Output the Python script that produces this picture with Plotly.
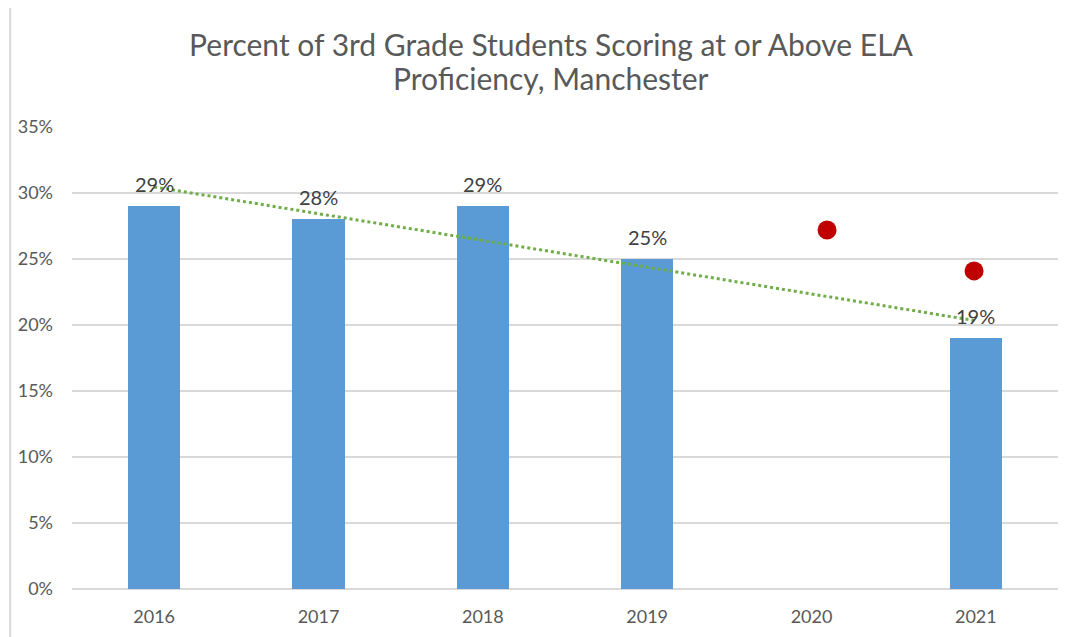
import numpy as np
import plotly.graph_objects as go

years = ["2016", "2017", "2018", "2019", "2020", "2021"]
bar_values = [29, 28, 29, 25, None, 19]
dot_values = [None, None, None, None, 27.2, 24.1]
y_ticks = [0, 5, 10, 15, 20, 25, 30, 35]
y_tick_labels = ["0%", "5%", "10%", "15%", "20%", "25%", "30%", "35%"]
title_line1 = "Percent of 3rd Grade Students Scoring at or Above ELA"
title_line2 = "Proficiency, Manchester"

# Linear trendline (Excel style) fitted on the available bar values
idx = np.arange(1, len(years) + 1)
mask = np.array([v is not None for v in bar_values])
vals = np.array([v if v is not None else np.nan for v in bar_values], dtype=float)
slope, intercept = np.polyfit(idx[mask], vals[mask], 1)
trend = list(slope * idx + intercept)

FONT = "Lato"
W, H = 1058, 629

fig = go.Figure()
fig.add_trace(go.Bar(
    x=years, y=bar_values, width=0.32,
    marker=dict(color="#5b9bd5", line=dict(width=0)),
    hoverinfo="skip", showlegend=False,
))
fig.add_trace(go.Scatter(
    x=years, y=trend, mode="lines",
    line=dict(color="#70ad47", width=3, dash="dot"),
    hoverinfo="skip", showlegend=False,
))
# Dot series sits on a secondary (hidden) category axis, as in the source chart
fig.add_trace(go.Scatter(
    x=years, y=dot_values, mode="markers", xaxis="x2",
    marker=dict(color="#c00000", size=19),
    hoverinfo="skip", showlegend=False,
))

for i, v in enumerate(bar_values):
    if v is None:
        continue
    fig.add_annotation(x=i, y=v, xref="x", yref="y", text=f"{v}%", showarrow=False,
                       yanchor="middle", yshift=22,
                       font=dict(family=FONT, size=20, color="#404040"))

fig.add_annotation(xref="paper", yref="paper", x=(551 - 8 - 64) / (W - 72), xanchor="center",
                   y=1 + (119 - 70) / (H - 167), yanchor="middle",
                   text=title_line2, showarrow=False,
                   font=dict(family=FONT, size=30, color="#595959"))

fig.update_layout(
    width=W, height=H,
    margin=dict(l=64, r=8, t=119, b=48),
    paper_bgcolor="white", plot_bgcolor="white",
    title=dict(text=title_line1, x=(551 - 8) / W, xanchor="center",
               y=1 - 37 / H, yanchor="middle",
               font=dict(family=FONT, size=30, color="#595959")),
    xaxis=dict(type="category", categoryorder="array", categoryarray=years,
               range=[-0.5, len(years) - 0.5],
               showgrid=False, showline=False, ticks="", ticklabelstandoff=15,
               tickfont=dict(family=FONT, size=18, color="#595959")),
    xaxis2=dict(type="category", categoryorder="array", categoryarray=years,
                overlaying="x", side="top", range=[-1.136, 5.571],
                visible=False, showgrid=False),
    yaxis=dict(range=[0, 35], tickvals=y_ticks, ticktext=y_tick_labels,
               showgrid=True, gridcolor="#d9d9d9", gridwidth=1.5,
               zeroline=True, zerolinecolor="#d9d9d9", zerolinewidth=1.5,
               showline=False, ticks="", ticklabelstandoff=18,
               tickfont=dict(family=FONT, size=18, color="#595959")),
    bargap=0,
)
fig.add_shape(type="rect", xref="paper", yref="paper",
              x0=-0.0627, x1=1.1, y0=-0.3, y1=1.3,
              line=dict(color="#d9d9d9", width=2), fillcolor="rgba(0,0,0,0)")
fig.write_html("out.html")
